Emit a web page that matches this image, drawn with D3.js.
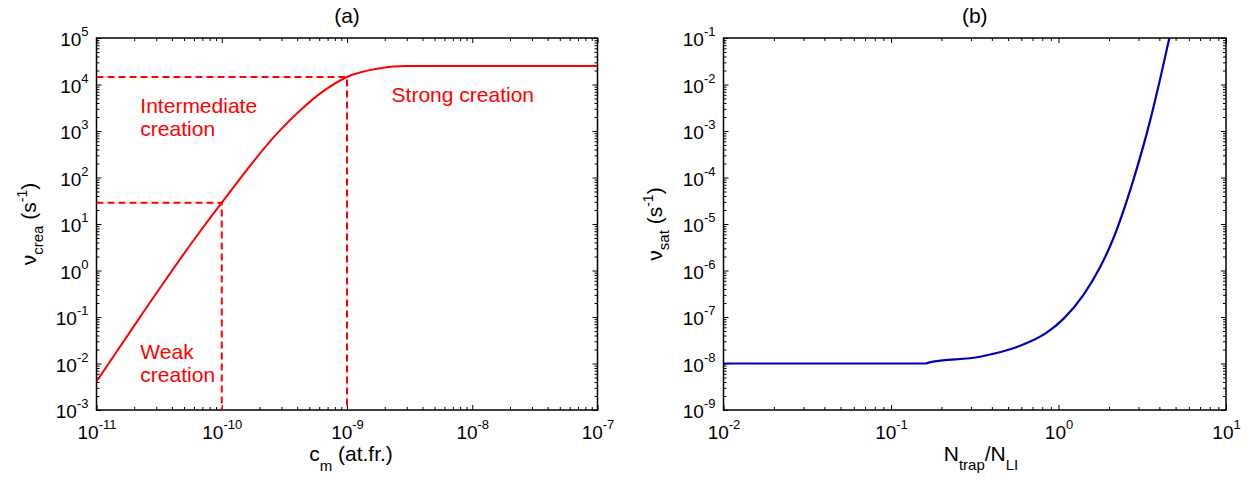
<!DOCTYPE html>
<html>
<head>
<meta charset="utf-8">
<script src="https://cdn.jsdelivr.net/npm/d3@7"></script>
<style>
  body { margin: 0; background: #fff; }
  svg { font-family: "Liberation Sans", Arial, sans-serif; }
</style>
</head>
<body>
<svg id="chart" width="1248" height="482"></svg>
<script>
// panel (a): creation frequency vs. concentration
const cm = [1e-11, 2.24e-11, 5.98e-11, 1e-10, 2.77e-10, 4.26e-10, 6.2e-10, 1e-9, 1.85e-9, 2.34e-9, 3e-9, 1e-8, 1e-7]
const nuCrea = [4.1e-3, 0.102, 4.53, 28.8, 890, 2820, 6600, 1.45e4, 2.24e4, 2.45e4, 2.5e4, 2.5e4, 2.5e4]

// regime limits (dashed guides)
const limitC = [1e-10, 1e-9]
const limitNu = [28.8, 1.45e4]

// panel (b): saturation frequency vs. trap ratio
const nRatio = [0.01, 0.05, 0.16, 0.17, 0.34, 0.59, 0.85, 1.07, 1.41, 1.77, 2.13, 2.8, 3.52, 4.04, 4.59, 4.8]
const nuSat = [1.0e-8, 1.0e-8, 1.0e-8, 1.06e-8, 1.4e-8, 2.4e-8, 4.6e-8, 9.1e-8, 3.0e-7, 1.17e-6,
  5.0e-6, 8.9e-5, 1.65e-3, 1.3e-2, 1e-1, 0.2]

// tick exponents
const xExpA = [-11, -10, -9, -8, -7]
const yExpA = [-3, -2, -1, 0, 1, 2, 3, 4, 5]
const xExpB = [-2, -1, 0, 1]
const yExpB = [-9, -8, -7, -6, -5, -4, -3, -2, -1]

// annotations [c, nu, lines]
const notes = [
  { c: 2.24e-11, nu: 2440, lines: ["Intermediate", "creation"] },
  { c: 2.27e-9, nu: 4200, lines: ["Strong creation"] },
  { c: 2.24e-11, nu: 0.0125, lines: ["Weak", "creation"] },
]

const svg = d3.select("#chart")
const red = "#ff0000"
const blue = "#0000b8"

const plotTop = 38, plotBottom = 410

function minorTicks(exps) {
  const out = []
  for (let i = 0; i < exps.length - 1; i++) {
    for (let k = 2; k <= 9; k++) out.push(k * Math.pow(10, exps[i]))
  }
  return out
}

// label "10^e" written into a text node
function powLabel(sel, e, supDy) {
  sel.append("tspan").text("10")
  sel.append("tspan").attr("dy", supDy).style("font-size", "13px").text(e)
}

function drawPanel(opts) {
  const { x0, x1, xExp, yExp, title, id } = opts
  const x = d3.scaleLog().domain([Math.pow(10, xExp[0]), Math.pow(10, xExp[xExp.length - 1])]).range([x0, x1])
  const y = d3.scaleLog().domain([Math.pow(10, yExp[0]), Math.pow(10, yExp[yExp.length - 1])]).range([plotBottom, plotTop])
  const g = svg.append("g")

  const xMajor = xExp.map((e) => Math.pow(10, e))
  const yMajor = yExp.map((e) => Math.pow(10, e))

  // ticks pointing inward on all four sides
  const axes = [
    [d3.axisBottom(x), `translate(0,${plotBottom})`, xMajor, minorTicks(xExp)],
    [d3.axisTop(x), `translate(0,${plotTop})`, xMajor, minorTicks(xExp)],
    [d3.axisLeft(y), `translate(${x0},0)`, yMajor, minorTicks(yExp)],
    [d3.axisRight(y), `translate(${x1},0)`, yMajor, minorTicks(yExp)],
  ]
  axes.forEach(([ax, tr, major, minor], i) => {
    const a1 = g.append("g").attr("transform", tr)
      .call(ax.tickValues(minor).tickSize(-3).tickFormat(""))
    const a2 = g.append("g").attr("transform", tr)
      .call(ax.tickValues(major).tickSize(-5).tickFormat(""))
    ;[a1, a2].forEach((a) => {
      a.select(".domain").remove()
      a.selectAll("line").attr("stroke", "#000").attr("stroke-width", 1)
    })
    if (i === 0) {
      a2.selectAll(".tick").append("text")
        .attr("fill", "#000").attr("y", 29).attr("text-anchor", "middle")
        .style("font-size", "19px")
        .each(function (d) { powLabel(d3.select(this), Math.round(Math.log10(d)), -10) })
    }
    if (i === 2) {
      a2.selectAll(".tick").append("text")
        .attr("fill", "#000").attr("x", -8).attr("y", 7.5).attr("text-anchor", "end")
        .style("font-size", "19px")
        .each(function (d) { powLabel(d3.select(this), Math.round(Math.log10(d)), -10) })
    }
  })

  // box
  g.append("rect")
    .attr("x", x0).attr("y", plotTop).attr("width", x1 - x0).attr("height", plotBottom - plotTop)
    .attr("fill", "none").attr("stroke", "#000").attr("stroke-width", 1.5)

  g.append("text")
    .attr("x", (x0 + x1) / 2).attr("y", 23).attr("text-anchor", "middle")
    .style("font-size", "21px").text(title)

  g.append("clipPath").attr("id", id)
    .append("rect").attr("x", x0).attr("y", plotTop).attr("width", x1 - x0).attr("height", plotBottom - plotTop)

  return { g, x, y }
}

// ---------- panel (a)
const pa = drawPanel({ x0: 96.5, x1: 597.5, xExp: xExpA, yExp: yExpA, title: "(a)", id: "clipA" })

limitC.forEach((c, i) => {
  const xd = pa.x.domain(), yd = pa.y.domain()
  const line = d3.line().x((d) => pa.x(d[0])).y((d) => pa.y(d[1]))
  pa.g.append("path")
    .attr("d", line([[xd[0], limitNu[i]], [c, limitNu[i]], [c, yd[0]]]))
    .attr("fill", "none").attr("stroke", red).attr("stroke-width", 2)
    .attr("stroke-dasharray", "7,4")
})

pa.g.append("path")
  .datum(cm.map((c, i) => [c, nuCrea[i]]))
  .attr("clip-path", "url(#clipA)")
  .attr("d", d3.line().x((d) => pa.x(d[0])).y((d) => pa.y(d[1])).curve(d3.curveMonotoneX))
  .attr("fill", "none").attr("stroke", red).attr("stroke-width", 2)

notes.forEach((n) => {
  const t = pa.g.append("text")
    .attr("x", pa.x(n.c)).attr("y", pa.y(n.nu))
    .attr("fill", red).style("font-size", "21px")
  n.lines.forEach((l, i) => {
    t.append("tspan").attr("x", pa.x(n.c)).attr("dy", i === 0 ? 0 : 23).text(l)
  })
})

// axis titles (a)
const xtA = svg.append("text").attr("x", 351).attr("y", 461).attr("text-anchor", "middle").style("font-size", "21px")
xtA.append("tspan").text("c")
xtA.append("tspan").attr("dy", 10).style("font-size", "15px").text("m")
xtA.append("tspan").attr("dy", -10).text(" (at.fr.)")

const ytA = svg.append("text").attr("transform", `translate(36,${(plotTop + plotBottom) / 2}) rotate(-90)`)
  .attr("text-anchor", "middle").style("font-size", "21px")
ytA.append("tspan").text("ν")
ytA.append("tspan").attr("dy", 7).style("font-size", "15px").text("crea")
ytA.append("tspan").attr("dy", -7).text(" (s")
ytA.append("tspan").attr("dy", -9).style("font-size", "14px").text("-1")
ytA.append("tspan").attr("dy", 9).text(")")

// ---------- panel (b)
const pb = drawPanel({ x0: 723.5, x1: 1226, xExp: xExpB, yExp: yExpB, title: "(b)", id: "clipB" })

pb.g.append("path")
  .datum(nRatio.map((n, i) => [n, nuSat[i]]))
  .attr("clip-path", "url(#clipB)")
  .attr("d", d3.line().x((d) => pb.x(d[0])).y((d) => pb.y(d[1])).curve(d3.curveMonotoneX))
  .attr("fill", "none").attr("stroke", blue).attr("stroke-width", 2.2)

const xtB = svg.append("text").attr("x", 981).attr("y", 461).attr("text-anchor", "middle").style("font-size", "21px")
xtB.append("tspan").text("N")
xtB.append("tspan").attr("dy", 9).style("font-size", "15px").text("trap")
xtB.append("tspan").attr("dy", -9).text("/N")
xtB.append("tspan").attr("dy", 9).style("font-size", "15px").text("LI")

const ytB = svg.append("text").attr("transform", `translate(662,${(plotTop + plotBottom) / 2}) rotate(-90)`)
  .attr("text-anchor", "middle").style("font-size", "21px")
ytB.append("tspan").text("ν")
ytB.append("tspan").attr("dy", 7).style("font-size", "15px").text("sat")
ytB.append("tspan").attr("dy", -7).text(" (s")
ytB.append("tspan").attr("dy", -9).style("font-size", "14px").text("-1")
ytB.append("tspan").attr("dy", 9).text(")")
</script>
</body>
</html>
